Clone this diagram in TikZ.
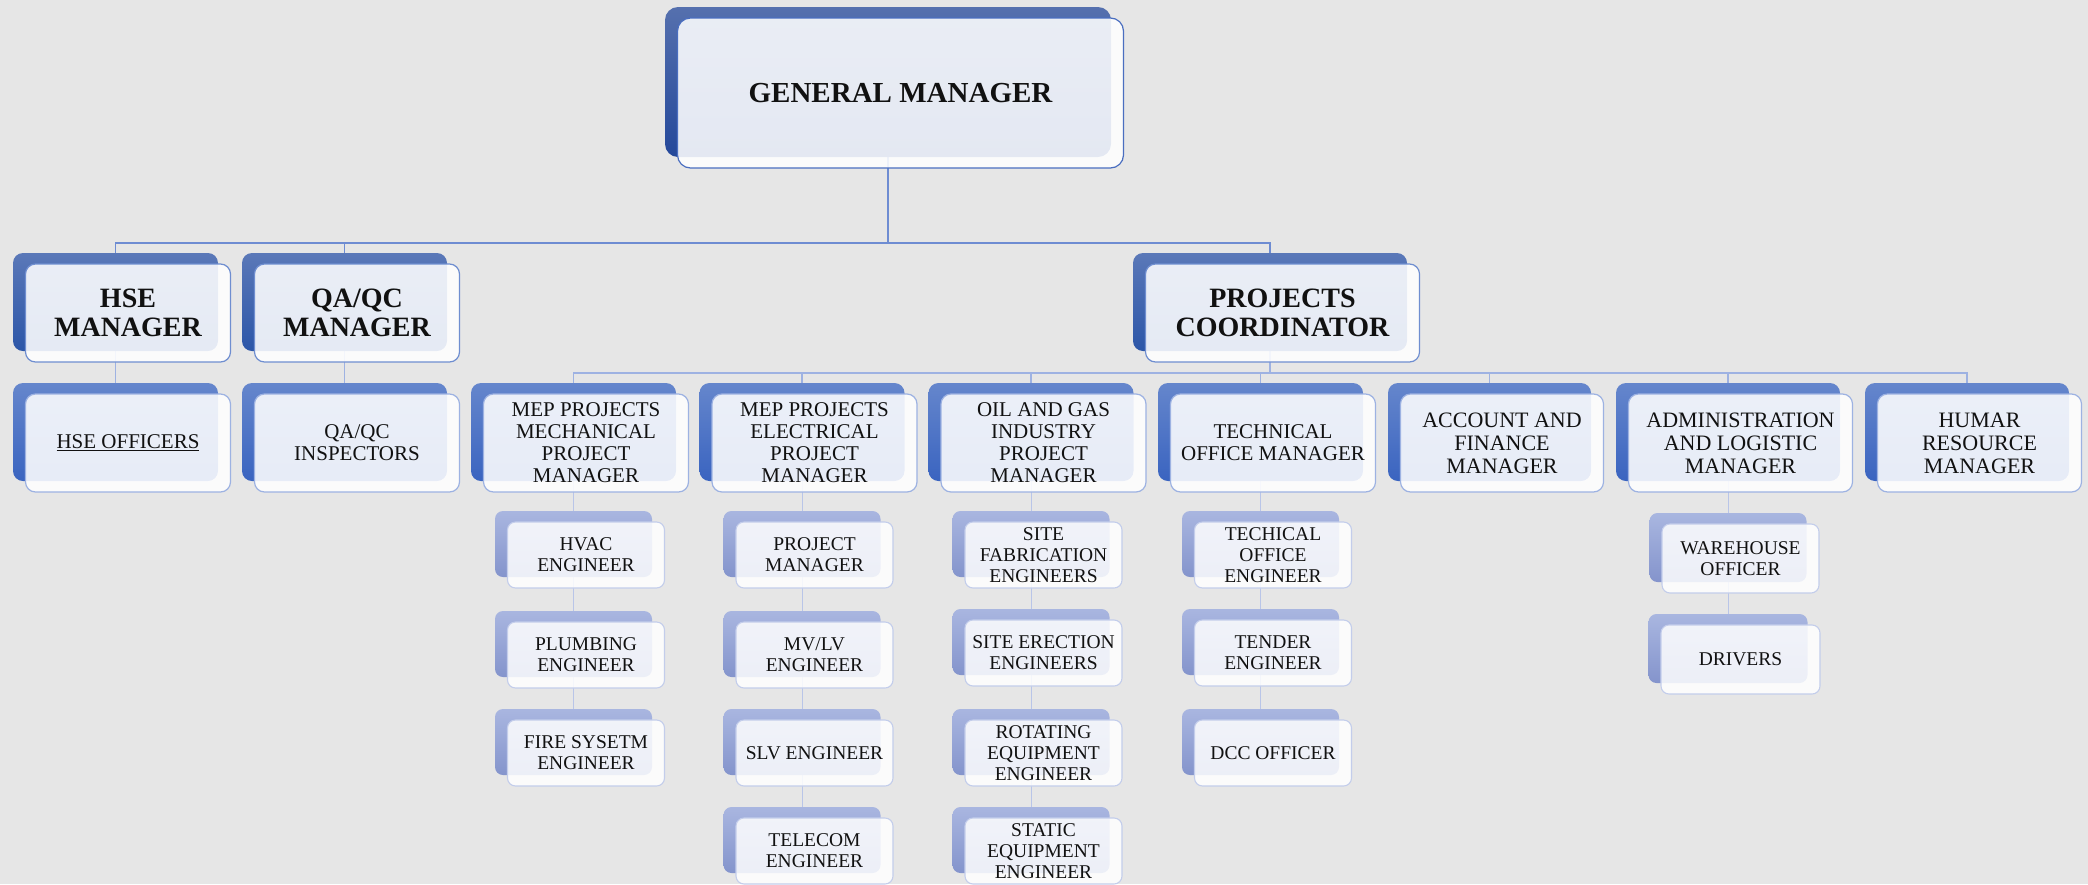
\documentclass[tikz,border=0pt]{standalone}
\usepackage{fontspec}
\setmainfont{Liberation Serif}
\pgfdeclarelayer{bg}\pgfdeclarelayer{lines}
\pgfsetlayers{bg,lines,main}
\definecolor{bgc}{HTML}{E6E6E6}
\definecolor{gmtop}{HTML}{5570AE}\definecolor{gmbot}{HTML}{24489A}
\definecolor{lonetop}{HTML}{5A78B8}\definecolor{lonebot}{HTML}{2C56A8}
\definecolor{ltwotop}{HTML}{6586CC}\definecolor{ltwobot}{HTML}{3A64C0}
\definecolor{lthrtop}{HTML}{A9B6E0}\definecolor{lthrbot}{HTML}{8494CC}
\definecolor{gmborder}{HTML}{4A6EC0}\definecolor{loneborder}{HTML}{6F8ED0}
\definecolor{ltwoborder}{HTML}{9DB2E2}\definecolor{lthrborder}{HTML}{C3CDEB}
\definecolor{lineA}{HTML}{6E8CD2}\definecolor{lineB}{HTML}{9EB2E2}\definecolor{lineC}{HTML}{B9C5E8}
\definecolor{txt}{HTML}{111111}
\newcommand\fgm{\fontsize{29}{31}\selectfont\bfseries}
\newcommand\fone{\fontsize{28}{29}\selectfont\bfseries}
\newcommand\ftwo{\fontsize{21}{22}\selectfont}
\newcommand\ftwob{\fontsize{22}{23}\selectfont}
\newcommand\fthr{\fontsize{19.5}{21}\selectfont}
\tikzset{
  boxbase/.style={rectangle, inner sep=0pt, outer sep=0pt, anchor=north},
  gmback/.style={boxbase, rounded corners=13pt, top color=gmtop, bottom color=gmbot},
  gmfront/.style={boxbase, rounded corners=13pt, draw=gmborder, line width=1.2pt, fill=white, fill opacity=0.88, text opacity=1, text=txt, align=center},
  oneback/.style={boxbase, rounded corners=10pt, top color=lonetop, bottom color=lonebot},
  onefront/.style={boxbase, rounded corners=10pt, draw=loneborder, line width=1.2pt, fill=white, fill opacity=0.88, text opacity=1, text=txt, align=center},
  twoback/.style={boxbase, rounded corners=10pt, top color=ltwotop, bottom color=ltwobot},
  twofront/.style={boxbase, rounded corners=10pt, draw=ltwoborder, line width=1.2pt, fill=white, fill opacity=0.88, text opacity=1, text=txt, align=center},
  thrback/.style={boxbase, rounded corners=8pt, top color=lthrtop, bottom color=lthrbot},
  thrfront/.style={boxbase, rounded corners=8pt, draw=lthrborder, line width=1.1pt, fill=white, fill opacity=0.85, text opacity=1, text=txt, align=center},
  conA/.style={draw=lineA, line width=1.2pt},
  conB/.style={draw=lineB, line width=1.1pt},
  conC/.style={draw=lineC, line width=1pt},
}
% name, style prefix, center x, top y, width, height, font, text
\newcommand\orgbox[8]{%
  \node[#2back, minimum width=#5pt, minimum height=#6pt] (#1b) at (#3,#4) {};
  \node[#2front, minimum width=#5pt, minimum height=#6pt, xshift=12.5pt, yshift=-11pt, font=#7] (#1) at (#3,#4) {#8};
}
\begin{document}
\begin{tikzpicture}[x=1pt,y=-1pt]
\useasboundingbox (0,0) rectangle (2088,884);
\begin{pgfonlayer}{bg}
  \fill[bgc] (0,0) rectangle (2088,884);
\end{pgfonlayer}

% top
\orgbox{gm}{gm}{888}{7}{446}{150}{\fgm}{GENERAL MANAGER}
% level 1
\orgbox{hse}{one}{115.5}{253}{205}{98}{\fone}{HSE\\MANAGER}
\orgbox{qa}{one}{344.5}{253}{205}{98}{\fone}{QA/QC\\MANAGER}
\orgbox{pc}{one}{1270}{253}{274}{98}{\fone}{PROJECTS\\COORDINATOR}
% level 2
\orgbox{hseo}{two}{115.5}{383}{205}{98}{\ftwo}{\underline{HSE OFFICERS}}
\orgbox{qai}{two}{344.5}{383}{205}{98}{\ftwo}{QA/QC\\INSPECTORS}
\orgbox{mech}{two}{573.5}{383}{205}{98}{\ftwo}{MEP PROJECTS\\MECHANICAL\\PROJECT\\MANAGER}
\orgbox{elec}{two}{802}{383}{205}{98}{\ftwo}{MEP PROJECTS\\ELECTRICAL\\PROJECT\\MANAGER}
\orgbox{oil}{two}{1031}{383}{205}{98}{\ftwo}{OIL AND GAS\\INDUSTRY\\PROJECT\\MANAGER}
\orgbox{tech}{two}{1260.5}{383}{205}{98}{\ftwo}{TECHNICAL\\OFFICE MANAGER}
\orgbox{acct}{two}{1489.5}{383}{203}{98}{\ftwob}{ACCOUNT AND\\FINANCE\\MANAGER}
\orgbox{admin}{two}{1728}{383}{224}{98}{\ftwob}{ADMINISTRATION\\AND LOGISTIC\\MANAGER}
\orgbox{hr}{two}{1967}{383}{204}{98}{\ftwob}{HUMAR\\RESOURCE\\MANAGER}
% level 3 - mechanical
\orgbox{hvac}{thr}{573.5}{511}{157}{66}{\fthr}{HVAC\\ENGINEER}
\orgbox{plumb}{thr}{573.5}{611}{157}{66}{\fthr}{PLUMBING\\ENGINEER}
\orgbox{fire}{thr}{573.5}{709}{157}{66}{\fthr}{FIRE SYSETM\\ENGINEER}
% electrical
\orgbox{pm}{thr}{802}{511}{157}{66}{\fthr}{PROJECT\\MANAGER}
\orgbox{mvlv}{thr}{802}{611}{157}{66}{\fthr}{MV/LV\\ENGINEER}
\orgbox{slv}{thr}{802}{709}{157}{66}{\fthr}{SLV ENGINEER}
\orgbox{tele}{thr}{802}{807}{157}{66}{\fthr}{TELECOM\\ENGINEER}
% oil and gas
\orgbox{fab}{thr}{1031}{511}{157}{66}{\fthr}{SITE\\FABRICATION\\ENGINEERS}
\orgbox{erec}{thr}{1031}{609}{157}{66}{\fthr}{SITE ERECTION\\ENGINEERS}
\orgbox{rot}{thr}{1031}{709}{157}{66}{\fthr}{ROTATING\\EQUIPMENT\\ENGINEER}
\orgbox{stat}{thr}{1031}{807}{157}{66}{\fthr}{STATIC\\EQUIPMENT\\ENGINEER}
% technical office
\orgbox{teng}{thr}{1260.5}{511}{157}{66}{\fthr}{TECHICAL\\OFFICE\\ENGINEER}
\orgbox{tend}{thr}{1260.5}{609}{157}{66}{\fthr}{TENDER\\ENGINEER}
\orgbox{dcc}{thr}{1260.5}{709}{157}{66}{\fthr}{DCC OFFICER}
% admin
\orgbox{ware}{thr}{1728}{513}{157}{69}{\fthr}{WAREHOUSE\\OFFICER}
\orgbox{drv}{thr}{1728}{614}{159}{69}{\fthr}{DRIVERS}

\begin{pgfonlayer}{lines}
  \coordinate (busone) at (0,243);
  \coordinate (bustwo) at (0,373);
  \draw[conA] (gmb.south) -- (gmb.south |- busone);
  \draw[conA] (hseb.north) |- (busone -| pcb.north) -- (pcb.north);
  \draw[conA] (qab.north) -- (qab.north |- busone);
  \draw[conB] (hseb.south) -- (hseob.north);
  \draw[conB] (qab.south) -- (qaib.north);
  \draw[conB] (pcb.south) -- (pcb.south |- bustwo);
  \draw[conB] (mechb.north) |- (bustwo -| hrb.north) -- (hrb.north);
  \foreach \n in {elec,oil,tech,acct,admin}
    \draw[conB] (\n b.north) -- (\n b.north |- bustwo);
  \draw[conC] (mechb.south) -- (hvacb.north) (hvacb.south) -- (plumbb.north) (plumbb.south) -- (fireb.north);
  \draw[conC] (elecb.south) -- (pmb.north) (pmb.south) -- (mvlvb.north) (mvlvb.south) -- (slvb.north) (slvb.south) -- (teleb.north);
  \draw[conC] (oilb.south) -- (fabb.north) (fabb.south) -- (erecb.north) (erecb.south) -- (rotb.north) (rotb.south) -- (statb.north);
  \draw[conC] (techb.south) -- (tengb.north) (tengb.south) -- (tendb.north) (tendb.south) -- (dccb.north);
  \draw[conC] (adminb.south) -- (wareb.north) (wareb.south) -- (drvb.north);
\end{pgfonlayer}
\end{tikzpicture}
\end{document}
